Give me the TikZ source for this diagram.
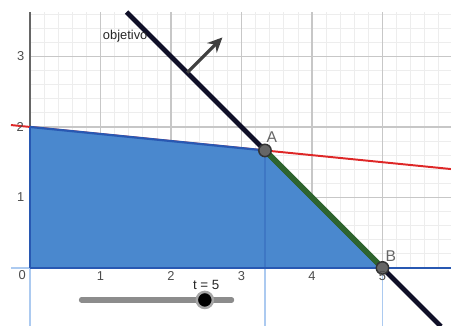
\documentclass[tikz,border=0pt]{standalone}
\usepackage{fontspec}
\setmainfont{Liberation Sans}
\usepackage{tikz}
\usetikzlibrary{arrows.meta,positioning,calc}
\definecolor{regionblue}{RGB}{74,136,206}
\definecolor{edgeblue}{RGB}{40,88,178}
\definecolor{lightaxis}{RGB}{172,202,240}
\definecolor{objnavy}{RGB}{16,16,40}
\definecolor{feasgreen}{RGB}{46,100,46}
\definecolor{restred}{RGB}{222,40,40}

\begin{document}
\begin{tikzpicture}[
			minorgrid/.style={draw=black!7, line width=0.3pt},
			majorgrid/.style={draw=black!22, line width=0.5pt},
			ticklab/.style={font=\fontsize{5.2}{6}\selectfont, text=black!70, inner sep=0pt},
			vertex/.style={circle, draw=black!80, fill=black!60, line width=0.6pt, inner sep=0pt, minimum size=5pt},
			ptlab/.style={font=\fontsize{6.3}{7}\selectfont, text=black!60, inner sep=0pt},
			>=Stealth
			]
			\useasboundingbox (-0.4255,-0.823) rectangle (5.972,3.801);
			% grid, first quadrant only
			\draw[minorgrid] (0,0) grid[step=0.2] (5.972,3.63);
			\draw[majorgrid] (0,0) grid[step=1] (5.972,3.63);
			
			\coordinate (O) at (0,0);
			\coordinate (C) at (0,2);
			\coordinate (A) at (10/3,5/3);
			\coordinate (B) at (5,0);
			\coordinate (r1) at (-0.27,2.027);
			\coordinate (r2) at (5.972,1.4028);
			\coordinate (o1) at (1.37,3.63);
			\coordinate (o2) at (5.83,-0.83);
			\coordinate (g1) at (2.23,2.77);
			\coordinate (g2) at (2.73,3.27);
			
			% light lines below the axis
			\draw[lightaxis, line width=0.6pt] (0,-0.823) -- (O) -- (-0.27,0);
			\draw[lightaxis, line width=0.6pt] (10/3,-0.823) -- (10/3,0);
			\draw[lightaxis, line width=0.6pt] (5,-0.823) -- (B);
			\draw[black!60, line width=0.6pt] (C) -- (0,3.63);
			
			\draw[restred, line width=0.8pt] (r1) -- (r2);
			\fill[regionblue] (O) -- (C) -- (A) -- (B) -- cycle;
			\draw[edgeblue, opacity=0.35, line width=0.5pt] (A) -- (10/3,0);
			\draw[edgeblue, line width=0.9pt] (C) -- (A);
			\draw[edgeblue, line width=0.8pt] (O) -- (5.972,0);
			\draw[edgeblue, line width=0.6pt] (O) -- (C);
			
			\draw[objnavy, line width=1.9pt] (o1) -- (o2);
			\draw[feasgreen, line width=2.3pt] (A) -- (B);
			\draw[->, black!75, line width=1.3pt, >={Stealth[length=6pt,width=5.5pt]}] (g1) -- (g2);
			\node[font=\fontsize{5.2}{6}\selectfont, text=black!85, inner sep=0pt] (obj) at (1.35,3.29) {objetivo};
			
			\node[vertex] (pA) at (A) {};
			\node[vertex] (pB) at (B) {};
			\node[ptlab] (lA) at (3.43,1.85) {A};
			\node[ptlab] (lB) at (5.12,0.17) {B};
			
			% tick labels
			\node[ticklab] (x0) at (-0.11,-0.10) {0};
			\node[ticklab] (x1) at (1,-0.11) {1};
			\node[ticklab] (x2) at (2,-0.11) {2};
			\node[ticklab] (x3) at (3,-0.11) {3};
			\node[ticklab] (x4) at (4,-0.11) {4};
			\node[ticklab] (x5) at (5,-0.11) {5};
			\node[ticklab] (y1) at (-0.13,1) {1};
			\node[ticklab] (y2) at (-0.14,2) {2};
			\node[ticklab] (y3) at (-0.13,3) {3};
			
			% slider
			\coordinate (s1) at (0.73,-0.454);
			\coordinate (s2) at (2.86,-0.454);
			\draw[black!45, line width=2.1pt, line cap=round] (s1) -- (s2);
			\node[circle, fill=black, draw=black!35, line width=1pt, inner sep=0pt, minimum size=6.5pt] (knob) at (2.48,-0.454) {};
			\node[font=\fontsize{5.4}{6}\selectfont, text=black!85, inner sep=0pt] (tval) at (2.50,-0.245) {t = 5};
		\end{tikzpicture}
\end{document}
